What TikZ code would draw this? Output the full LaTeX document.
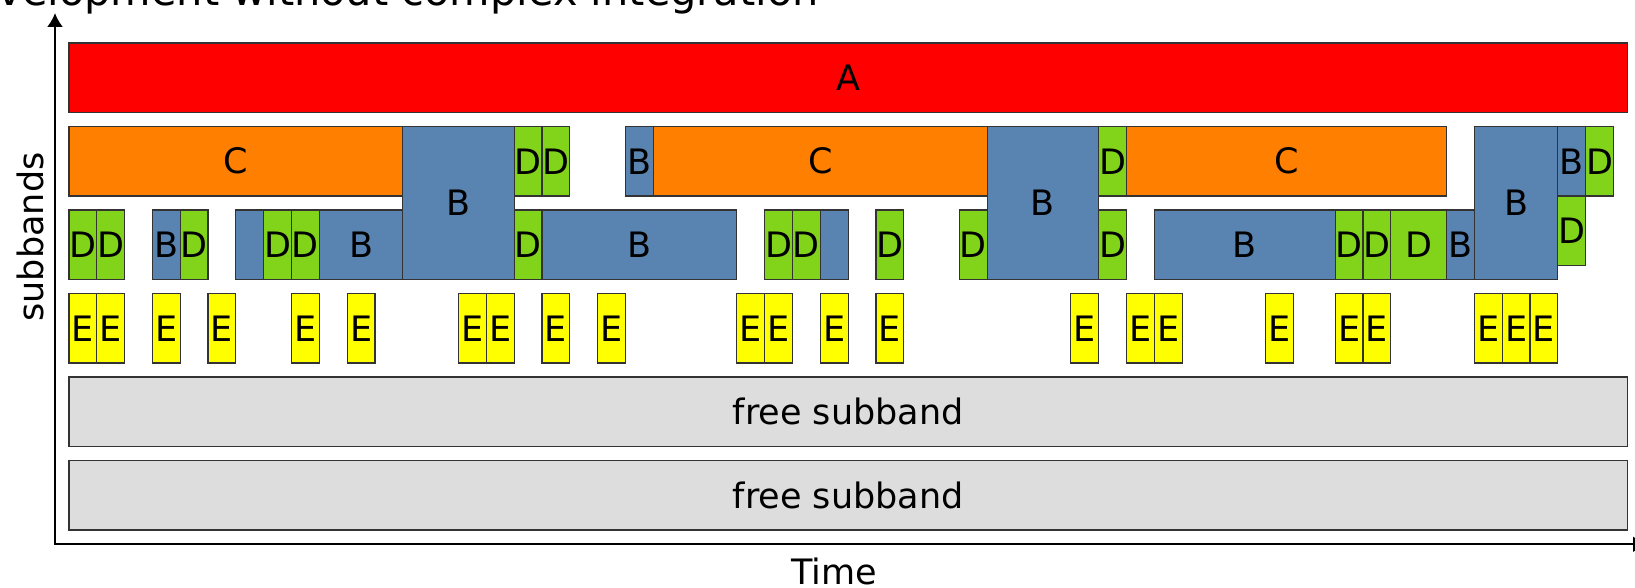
\documentclass[tikz,border=0pt]{standalone}
\usepackage{fontspec}
\setmainfont{DejaVu Sans}
\usetikzlibrary{arrows.meta}

\definecolor{bandred}{HTML}{FF0000}
\definecolor{bandorange}{HTML}{FF8000}
\definecolor{bandblue}{HTML}{5983B0}
\definecolor{bandgreen}{HTML}{81D41A}
\definecolor{bandyellow}{HTML}{FFFF00}
\definecolor{bandgrey}{HTML}{DDDDDD}

\tikzset{
  slotbox/.style={draw=black!80,line width=1.2pt},
  sa/.style={slotbox,fill=bandred},
  sb/.style={slotbox,fill=bandblue},
  sc/.style={slotbox,fill=bandorange},
  sd/.style={slotbox,fill=bandgreen},
  se/.style={slotbox,fill=bandyellow},
  sfree/.style={slotbox,fill=bandgrey},
  slotlabel/.style={inner sep=0pt,font=\fontsize{35}{40}\selectfont},
  axislabel/.style={inner sep=0pt,font=\fontsize{35}{40}\selectfont},
}

% one slot: style, first unit, last unit, row, label
\newcommand{\slot}[5]{%
  \draw[#1] (#2,{43+83.5*#4}) rectangle (#3,{112.5+83.5*#4});
  \node[slotlabel] at ({(#2+#3)/2},{77.75+83.5*#4}) {#5};}
% slot over rows 1 and 2
\newcommand{\tallslot}[3]{%
  \draw[sb] (#1,126.5) rectangle (#2,279.5);
  \node[slotlabel] at ({(#1+#2)/2},203) {#3};}

\begin{document}
\begin{tikzpicture}[x=1pt,y=-1pt]
        \useasboundingbox (0,0) rectangle (1635,588);
        \clip (0,0) rectangle (1635,588);
        % Heading, cut at the top edge
        \node[anchor=base east,inner sep=0pt,font=\fontsize{41.5}{46}\selectfont] (head) at (819,6) {Development without complex integration};
        \begin{scope}[xshift=68.9pt,x=27.83pt]
        % Subband A
        \slot{sa}{0}{56}{0}{A}
        % Subband 1
        \slot{sc}{0}{12}{1}{C}
        \tallslot{12}{16}{B}
        \slot{sd}{16}{17}{1}{D}
        \slot{sd}{17}{18}{1}{D}
        \slot{sb}{20}{21}{1}{B}
        \slot{sc}{21}{33}{1}{C}
        \tallslot{33}{37}{B}
        \slot{sd}{37}{38}{1}{D}
        \slot{sc}{38}{49.5}{1}{C}
        \tallslot{50.5}{53.5}{B}
        \slot{sb}{53.5}{54.5}{1}{B}
        \slot{sd}{54.5}{55.5}{1}{D}
        % Subband 2
        \slot{sd}{0}{1}{2}{D}
        \slot{sd}{1}{2}{2}{D}
        \slot{sb}{3}{4}{2}{B}
        \slot{sd}{4}{5}{2}{D}
        \slot{sb}{6}{7}{2}{}
        \slot{sd}{7}{8}{2}{D}
        \slot{sd}{8}{9}{2}{D}
        \slot{sb}{9}{12}{2}{B}
        \slot{sd}{16}{17}{2}{D}
        \slot{sb}{17}{24}{2}{B}
        \slot{sd}{25}{26}{2}{D}
        \slot{sd}{26}{27}{2}{D}
        \slot{sb}{27}{28}{2}{}
        \slot{sd}{29}{30}{2}{D}
        \slot{sd}{32}{33}{2}{D}
        \slot{sd}{37}{38}{2}{D}
        \slot{sb}{39}{45.5}{2}{B}
        \slot{sd}{45.5}{46.5}{2}{D}
        \slot{sd}{46.5}{47.5}{2}{D}
        \slot{sd}{47.5}{49.5}{2}{D}
        \slot{sb}{49.5}{50.5}{2}{B}
        % D hanging under the last B
        \draw[sd] (53.5,196) rectangle (54.5,265.5);
        \node[slotlabel] at (54,230.75) {D};
        % Subband 3
        \foreach \t in {0,1,3,5,8,10,14,15,17,19,24,25,27,29,36,38,39,43,45.5,46.5,50.5,51.5,52.5}
          {\slot{se}{\t}{\t+1}{3}{E}}
        % Free subbands
        \slot{sfree}{0}{56}{4}{free subband}
        \slot{sfree}{0}{56}{5}{free subband}
        \end{scope}
        % Axes
        \coordinate (origin) at (55,544.3);
        \coordinate (ytip) at (55,13);
        \coordinate (xtip) at (1647,544.3);
        \draw[-{Latex[length=14pt,width=16pt]},line width=2pt] (origin)--(ytip);
        \draw[-{Latex[length=14pt,width=16pt]},line width=2pt] (54,544.3)--(xtip);
        \node[axislabel,rotate=90] (ylab) at (30,237) {subbands};
        \node[axislabel] (xlab) at (834,571) {Time};
\end{tikzpicture}
\end{document}
